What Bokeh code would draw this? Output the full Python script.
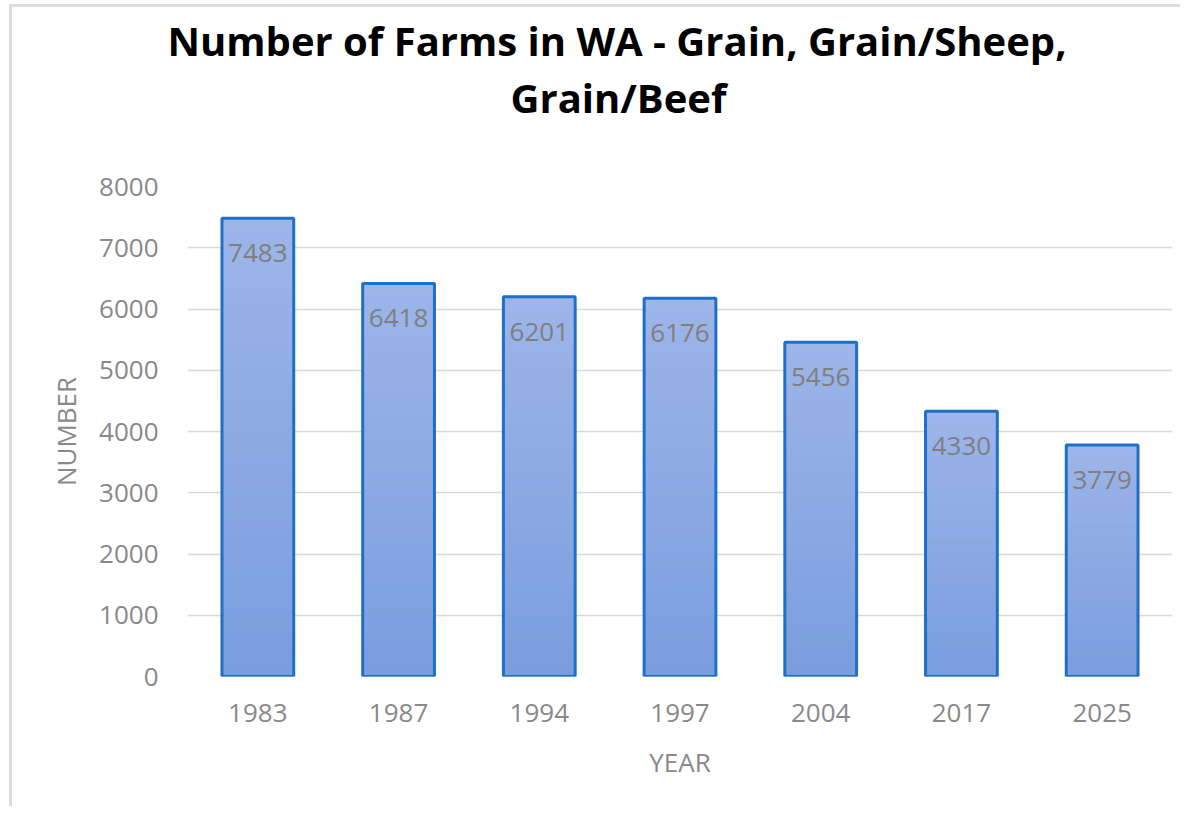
from bokeh.plotting import figure
from bokeh.models import Range1d, FixedTicker, Title, ColumnDataSource
from bokeh.embed import file_html
from bokeh.resources import INLINE

years = ["1983", "1987", "1994", "1997", "2004", "2017", "2025"]
farms = [7483, 6418, 6201, 6176, 5456, 4330, 3779]
y_ticks = [0, 1000, 2000, 3000, 4000, 5000, 6000, 7000, 8000]
title_line1 = "Number of Farms in WA - Grain, Grain/Sheep,"
title_line2 = "Grain/Beef"

FONT = "Open Sans"
GRAY = "#898989"

# vertical gradient for each bar (light at top, darker at bottom)
TOP_RGB = (0x9D, 0xB5, 0xE9)
BOT_RGB = (0x7A, 0x9D, 0xDE)
N = 40
gx, gb, gt, gc = [], [], [], []
for yr, v in zip(years, farms):
    for i in range(N):
        f = (i + 0.5) / N
        rgb = tuple(round(b + (t - b) * f) for b, t in zip(BOT_RGB, TOP_RGB))
        gx.append(yr)
        gb.append(v * i / N)
        gt.append(v * (i + 1) / N)
        gc.append("#%02x%02x%02x" % rgb)
grad = ColumnDataSource(dict(x=gx, bottom=gb, top=gt, color=gc))
src = ColumnDataSource(dict(x=years, top=farms, label=[str(v) for v in farms]))

p = figure(x_range=years, y_range=Range1d(0, 8000), width=1171, height=802,
           output_backend="svg", toolbar_location=None,
           min_border_left=175, min_border_right=11, min_border_top=179,
           min_border_bottom=133, outline_line_color=None,
           background_fill_color="white", border_fill_color="white")
p.x_range.range_padding = 0

# title: spacer + two left-anchored lines (stacked outward from the plot area)
p.add_layout(Title(text=" ", standoff=5, text_font=FONT, text_font_size="40px",
                   text_color="white"), "above")
p.add_layout(Title(text=title_line2, align="left", offset=323, standoff=0,
                   text_font=FONT, text_font_size="40px", text_font_style="bold",
                   text_color="black"), "above")
p.add_layout(Title(text=title_line1, align="left", offset=-20, standoff=0,
                   text_font=FONT, text_font_size="40px", text_font_style="bold",
                   text_color="black"), "above")

p.xgrid.grid_line_color = None
p.ygrid.grid_line_color = "#D9D9D9"
p.ygrid.grid_line_width = 1.5
p.yaxis.ticker = FixedTicker(ticks=y_ticks)

p.vbar(x="x", bottom="bottom", top="top", width=0.51, source=grad,
       fill_color="color", line_color="color", line_width=1)
p.vbar(x="x", top="top", width=0.51, source=src, fill_color=None,
       line_color="#1F6FC6", line_width=3)
p.text(x="x", y="top", text="label", source=src, text_align="center",
       text_baseline="middle", y_offset=35, text_font_size="26px",
       text_color="#7F7F7F", text_font={"value": FONT})

for ax in (p.xaxis[0], p.yaxis[0]):
    ax.axis_line_color = None
    ax.major_tick_line_color = None
    ax.minor_tick_line_color = None
    ax.major_label_text_font = FONT
    ax.major_label_text_font_size = "26px"
    ax.major_label_text_color = GRAY
    ax.axis_label_text_font = FONT
    ax.axis_label_text_font_size = "26px"
    ax.axis_label_text_font_style = "normal"
    ax.axis_label_text_color = GRAY

p.xaxis.axis_label = "YEAR"
p.xaxis.major_label_standoff = 21
p.xaxis.axis_label_standoff = 19
p.yaxis.axis_label = "NUMBER"
p.yaxis.major_label_standoff = 23
p.yaxis.axis_label_standoff = 12
p.yaxis.formatter.use_scientific = False

p.styles = {"margin-left": "9px", "margin-top": "4px",
            "border-left": "3px solid #DDDDDD", "border-top": "3px solid #DDDDDD"}

open("out.html", "w").write(file_html(p, INLINE))
